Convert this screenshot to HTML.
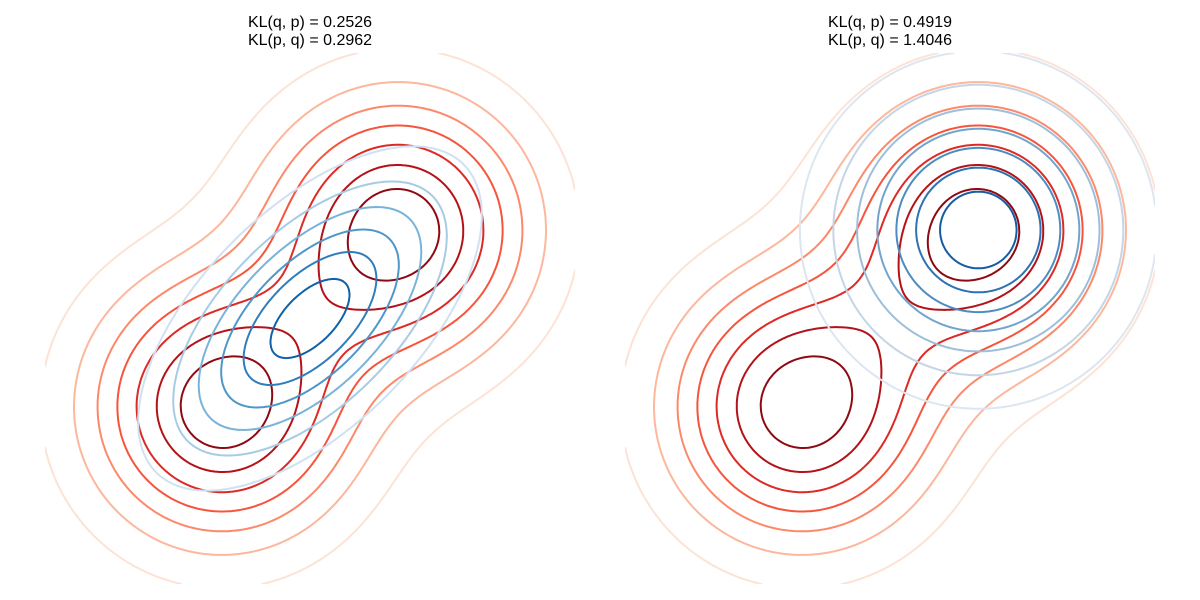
<!DOCTYPE html>
<html><head><meta charset="utf-8"><style>
body{margin:0;background:#fff;}
svg{display:block;font-family:"Liberation Sans","DejaVu Sans",sans-serif;}
</style></head><body>
<svg id="fig" width="1200" height="600" viewBox="0 0 1200 600">
<defs>
<clipPath id="clipL"><rect x="45" y="53" width="530" height="531"/></clipPath>
<clipPath id="clipR"><rect x="625" y="53" width="530" height="531"/></clipPath>
</defs>
<text x="310" y="27" text-anchor="middle" font-size="16" fill="#000">KL(q, p) = 0.2526</text>
<text x="310" y="45" text-anchor="middle" font-size="16" fill="#000">KL(p, q) = 0.2962</text>
<text x="890" y="27" text-anchor="middle" font-size="16" fill="#000">KL(q, p) = 0.4919</text>
<text x="890" y="45" text-anchor="middle" font-size="16" fill="#000">KL(p, q) = 1.4046</text>
<g id="axL" clip-path="url(#clipL)"></g>
<g id="axR" clip-path="url(#clipR)"></g>
</svg>
<script>
// data: mixture p
const pMeans = [[-1,-1],[1,1]];
const pWeights = [0.5,0.5];
const pLevels = [0.0097,0.0197,0.0297,0.0397,0.0502,0.0610,0.0720];
// left q: mean, covariance
const qLeftMean = [0,0];
const qLeftCov = [[1,0.6],[0.6,1]];
const qLeftLevels = [0.03,0.06,0.09,0.12,0.15,0.18];
// right q
const qRightMean = [1,1];
const qRightCov = [[1,0],[0,1]];
const qRightLevels = [0.0207,0.0414,0.0621,0.0828,0.1035,0.1242,0.1449];
const xRange = [-3,3];
const yRange = [-3,3];

const reds = ['#fde2d6','#fcb79d','#fc8a6a','#f6553d','#dc2a25','#b31218','#8e0a13'];
const bluesL = ['#cfe1f2','#a6cce4','#79b3d9','#4f97c9','#2f7dbb','#1161a8'];
const bluesR = ['#dde6f0','#c4d5e6','#9dbfda','#72a4cd','#4d8cc1','#2d72b2','#155ca2'];

function gauss(x,y,m,c){
  const det=c[0][0]*c[1][1]-c[0][1]*c[1][0];
  const i00=c[1][1]/det,i11=c[0][0]/det,i01=-c[0][1]/det;
  const dx=x-m[0],dy=y-m[1];
  const k=i00*dx*dx+2*i01*dx*dy+i11*dy*dy;
  return Math.exp(-0.5*k)/(2*Math.PI*Math.sqrt(det));
}
function pDens(x,y){let s=0;for(let i=0;i<pMeans.length;i++)s+=pWeights[i]*gauss(x,y,pMeans[i],[[1,0],[0,1]]);return s;}

function contour(g,f,levels,colors,x0,name){
  const W=530,H=531,N=240;
  const sx=v=>x0+(v-xRange[0])/(xRange[1]-xRange[0])*W;
  const sy=v=>53+(yRange[1]-v)/(yRange[1]-yRange[0])*H;
  const xs=[],ys=[],Z=[];
  for(let i=0;i<=N;i++){xs.push(xRange[0]+(xRange[1]-xRange[0])*i/N);ys.push(yRange[0]+(yRange[1]-yRange[0])*i/N);}
  for(let j=0;j<=N;j++){Z.push([]);for(let i=0;i<=N;i++)Z[j].push(f(xs[i],ys[j]));}
  levels.forEach((L,li)=>{
    let d='';
    for(let j=0;j<N;j++)for(let i=0;i<N;i++){
      const a=Z[j][i],b=Z[j][i+1],c=Z[j+1][i+1],e=Z[j+1][i];
      const pts=[];
      const edge=(v1,v2,x1,y1,x2,y2)=>{if((v1<L)!==(v2<L)){const t=(L-v1)/(v2-v1);pts.push([x1+t*(x2-x1),y1+t*(y2-y1)]);}};
      edge(a,b,xs[i],ys[j],xs[i+1],ys[j]);
      edge(b,c,xs[i+1],ys[j],xs[i+1],ys[j+1]);
      edge(c,e,xs[i+1],ys[j+1],xs[i],ys[j+1]);
      edge(e,a,xs[i],ys[j+1],xs[i],ys[j]);
      for(let k=0;k+1<pts.length;k+=2)
        d+='M'+sx(pts[k][0]).toFixed(1)+' '+sy(pts[k][1]).toFixed(1)+'L'+sx(pts[k+1][0]).toFixed(1)+' '+sy(pts[k+1][1]).toFixed(1);
    }
    const p=document.createElementNS('http://www.w3.org/2000/svg','path');
    p.setAttribute('d',d);
    p.setAttribute('fill','none');
    p.setAttribute('stroke',colors[li]);
    p.setAttribute('stroke-width','2');
    p.setAttribute('stroke-linecap','round');
    
    
    g.appendChild(p);
  });
}
const gL=document.getElementById('axL'),gR=document.getElementById('axR');
contour(gL,pDens,pLevels,reds,45,'left-p-contour');
contour(gL,(x,y)=>gauss(x,y,qLeftMean,qLeftCov),qLeftLevels,bluesL,45,'left-q-contour');
contour(gR,pDens,pLevels,reds,625,'right-p-contour');
contour(gR,(x,y)=>gauss(x,y,qRightMean,qRightCov),qRightLevels,bluesR,625,'right-q-contour');
</script>
</body></html>
